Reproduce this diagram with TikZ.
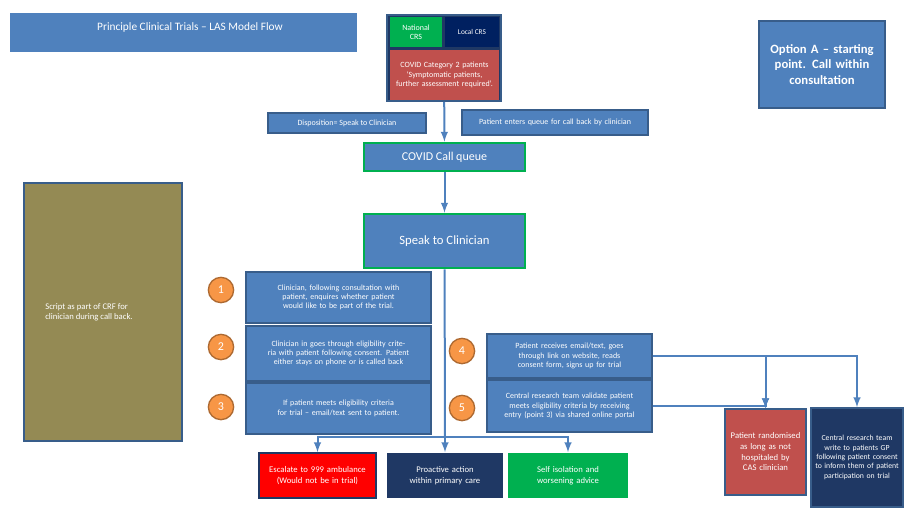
\documentclass[tikz,border=0pt]{standalone}
\usepackage{fontspec}
\setmainfont{Carlito}
\usetikzlibrary{positioning,calc}
\definecolor{boxblue}{HTML}{4F81BD}
\definecolor{boxline}{HTML}{385D8A}
\definecolor{navy}{HTML}{1F3864}
\definecolor{deepnavy}{HTML}{002060}
\definecolor{okgreen}{HTML}{00B050}
\definecolor{softred}{HTML}{C0504D}
\definecolor{orange}{HTML}{F79646}
\definecolor{olive}{HTML}{948A54}
\tikzset{
	box/.style={draw=boxline, line width=1.2pt, fill=boxblue, text=white, inner sep=1pt, align=center, font=\fontsize{6}{7}\selectfont},
	queuebox/.style={box, draw=okgreen, line width=2pt},
	stepnum/.style={circle, draw=orange!70!black, line width=1pt, fill=orange, text=white, minimum size=19pt, inner sep=0pt, font=\fontsize{9}{9}\selectfont},
	flow/.style={draw=boxblue, line width=1.5pt, -latex}
}
\begin{document}
\begin{tikzpicture}[x=0.75pt,y=-0.75pt]
		\useasboundingbox (0,0) rectangle (908,511);
		% title and option
		\path
		(183.5,32.5) node[box, draw=none, minimum width=260pt, minimum height=29pt] (title) {}
		(190,27) node[text=white, font=\fontsize{8.5}{10}\selectfont] (titletext) {Principle Clinical Trials – LAS Model Flow}
		(822,64.5) node[box, line width=1.5pt, minimum width=94.5pt, minimum height=65pt, text width=85pt, font=\fontsize{9.5}{11.5}\selectfont\bfseries] (opt) {Option A – starting point. Call within consultation};

		% entry block
		\path
		(444,58) node[box, fill=navy, minimum width=85.5pt, minimum height=64.5pt] (top) {}
		(416,32) node[box, draw=none, fill=okgreen, minimum width=39pt, minimum height=22.5pt] (nat) {National\\CRS}
		(472,32) node[box, draw=none, fill=deepnavy, minimum width=40.5pt, minimum height=22.5pt, font=\fontsize{5.5}{6.5}\selectfont] (loc) {Local CRS}
		(444.5,75) node[box, draw=none, fill=softred, minimum width=81.5pt, minimum height=37.5pt, text width=78pt] (cat) {COVID Category 2 patients ‘Symptomatic patients, further assessment required’.}
		(347,123) node[box, minimum width=118.5pt, minimum height=15pt] (disp) {Disposition= Speak to Clinician}
		(555,122.5) node[box, minimum width=139.5pt, minimum height=18.75pt, text width=134pt] (enter) {Patient enters queue for call back by clinician}
		(444.5,157) node[queuebox, minimum width=120.75pt, minimum height=21pt, font=\fontsize{9}{10}\selectfont] (callq) {COVID Call queue}
		(444.5,241) node[queuebox, minimum width=120.75pt, minimum height=40.5pt, font=\fontsize{9.5}{11}\selectfont] (speak) {Speak to Clinician};

		% script and steps
		\path
		(102.5,312) node[draw=boxline, line width=1.5pt, fill=olive, minimum width=118.5pt, minimum height=193.5pt] (script) {}
		(89,312.5) node[text=white, align=left, font=\fontsize{6.5}{7.5}\selectfont] (scripttext) {Script as part of CRF for\\clinician during call back.}
		(221,290) node[stepnum] (n1) {1}
		(221,347) node[stepnum] (n2) {2}
		(221,407) node[stepnum] (n3) {3}
		(462,351) node[stepnum] (n4) {4}
		(462,408) node[stepnum] (n5) {5}
		(338.5,297.5) node[box, minimum width=138.75pt, minimum height=38.25pt, text width=128pt] (s1) {Clinician, following consultation with patient, enquires whether patient would like to be part of the trial.}
		(338.5,353.5) node[box, minimum width=138.75pt, minimum height=41.25pt, text width=132pt] (s2) {Clinician in goes through eligibility criteria with patient following consent. Patient either stays on phone or is called back}
		(338.5,408.5) node[box, minimum width=138.75pt, minimum height=38.25pt, text width=128pt] (s3) {If patient meets eligibility criteria for trial – email/text sent to patient.}
		(569.5,356) node[box, minimum width=123.75pt, minimum height=33pt, text width=116pt] (s4) {Patient receives email/text, goes through link on website, reads consent form, signs up for trial}
		(569.5,406) node[box, minimum width=123.75pt, minimum height=39pt, text width=110pt] (s5) {Central research team validate patient meets eligibility criteria by receiving entry (point 3) via shared online portal};

		% outcomes
		\path
		(317.5,475.5) node[box, fill=red, draw=navy, minimum width=87.75pt, minimum height=33.75pt, text width=80pt, font=\fontsize{6.5}{8}\selectfont] (esc) {Escalate to 999 ambulance (Would not be in trial)}
		(445,475.5) node[box, fill=navy, draw=none, minimum width=87pt, minimum height=33.75pt, text width=80pt, font=\fontsize{6.5}{8}\selectfont] (pro) {Proactive action within primary care}
		(568,475.5) node[box, fill=okgreen, draw=none, minimum width=90pt, minimum height=33.75pt, text width=82pt, font=\fontsize{6.5}{8}\selectfont] (self) {Self isolation and worsening advice}
		(765.5,452) node[box, fill=softred, minimum width=60.75pt, minimum height=64.5pt, text width=56pt, font=\fontsize{6.5}{8}\selectfont] (rand) {Patient randomised as long as not hospitaled by CAS clinician}
		(857,457.5) node[box, fill=navy, minimum width=69pt, minimum height=74.25pt, text width=64pt, font=\fontsize{5.8}{7}\selectfont] (cen) {Central research team write to patients GP following patient consent to inform them of patient participation on trial};

		\coordinate (split) at (445,437);
		\draw[flow] (top) -- (callq);
		\draw[flow] (callq) -- (speak);
		\draw[draw=boxblue, line width=1.5pt] (speak) -- (split);
		\draw[flow] (split) -| (esc);
		\draw[flow] (split) -- (pro);
		\draw[flow] (split) -| (self);
		\draw[flow] (s4) -| (cen);
		\draw[flow] (s4 -| rand) -- (rand);
		\draw[flow] (s5) -| (rand);
\end{tikzpicture}
\end{document}
